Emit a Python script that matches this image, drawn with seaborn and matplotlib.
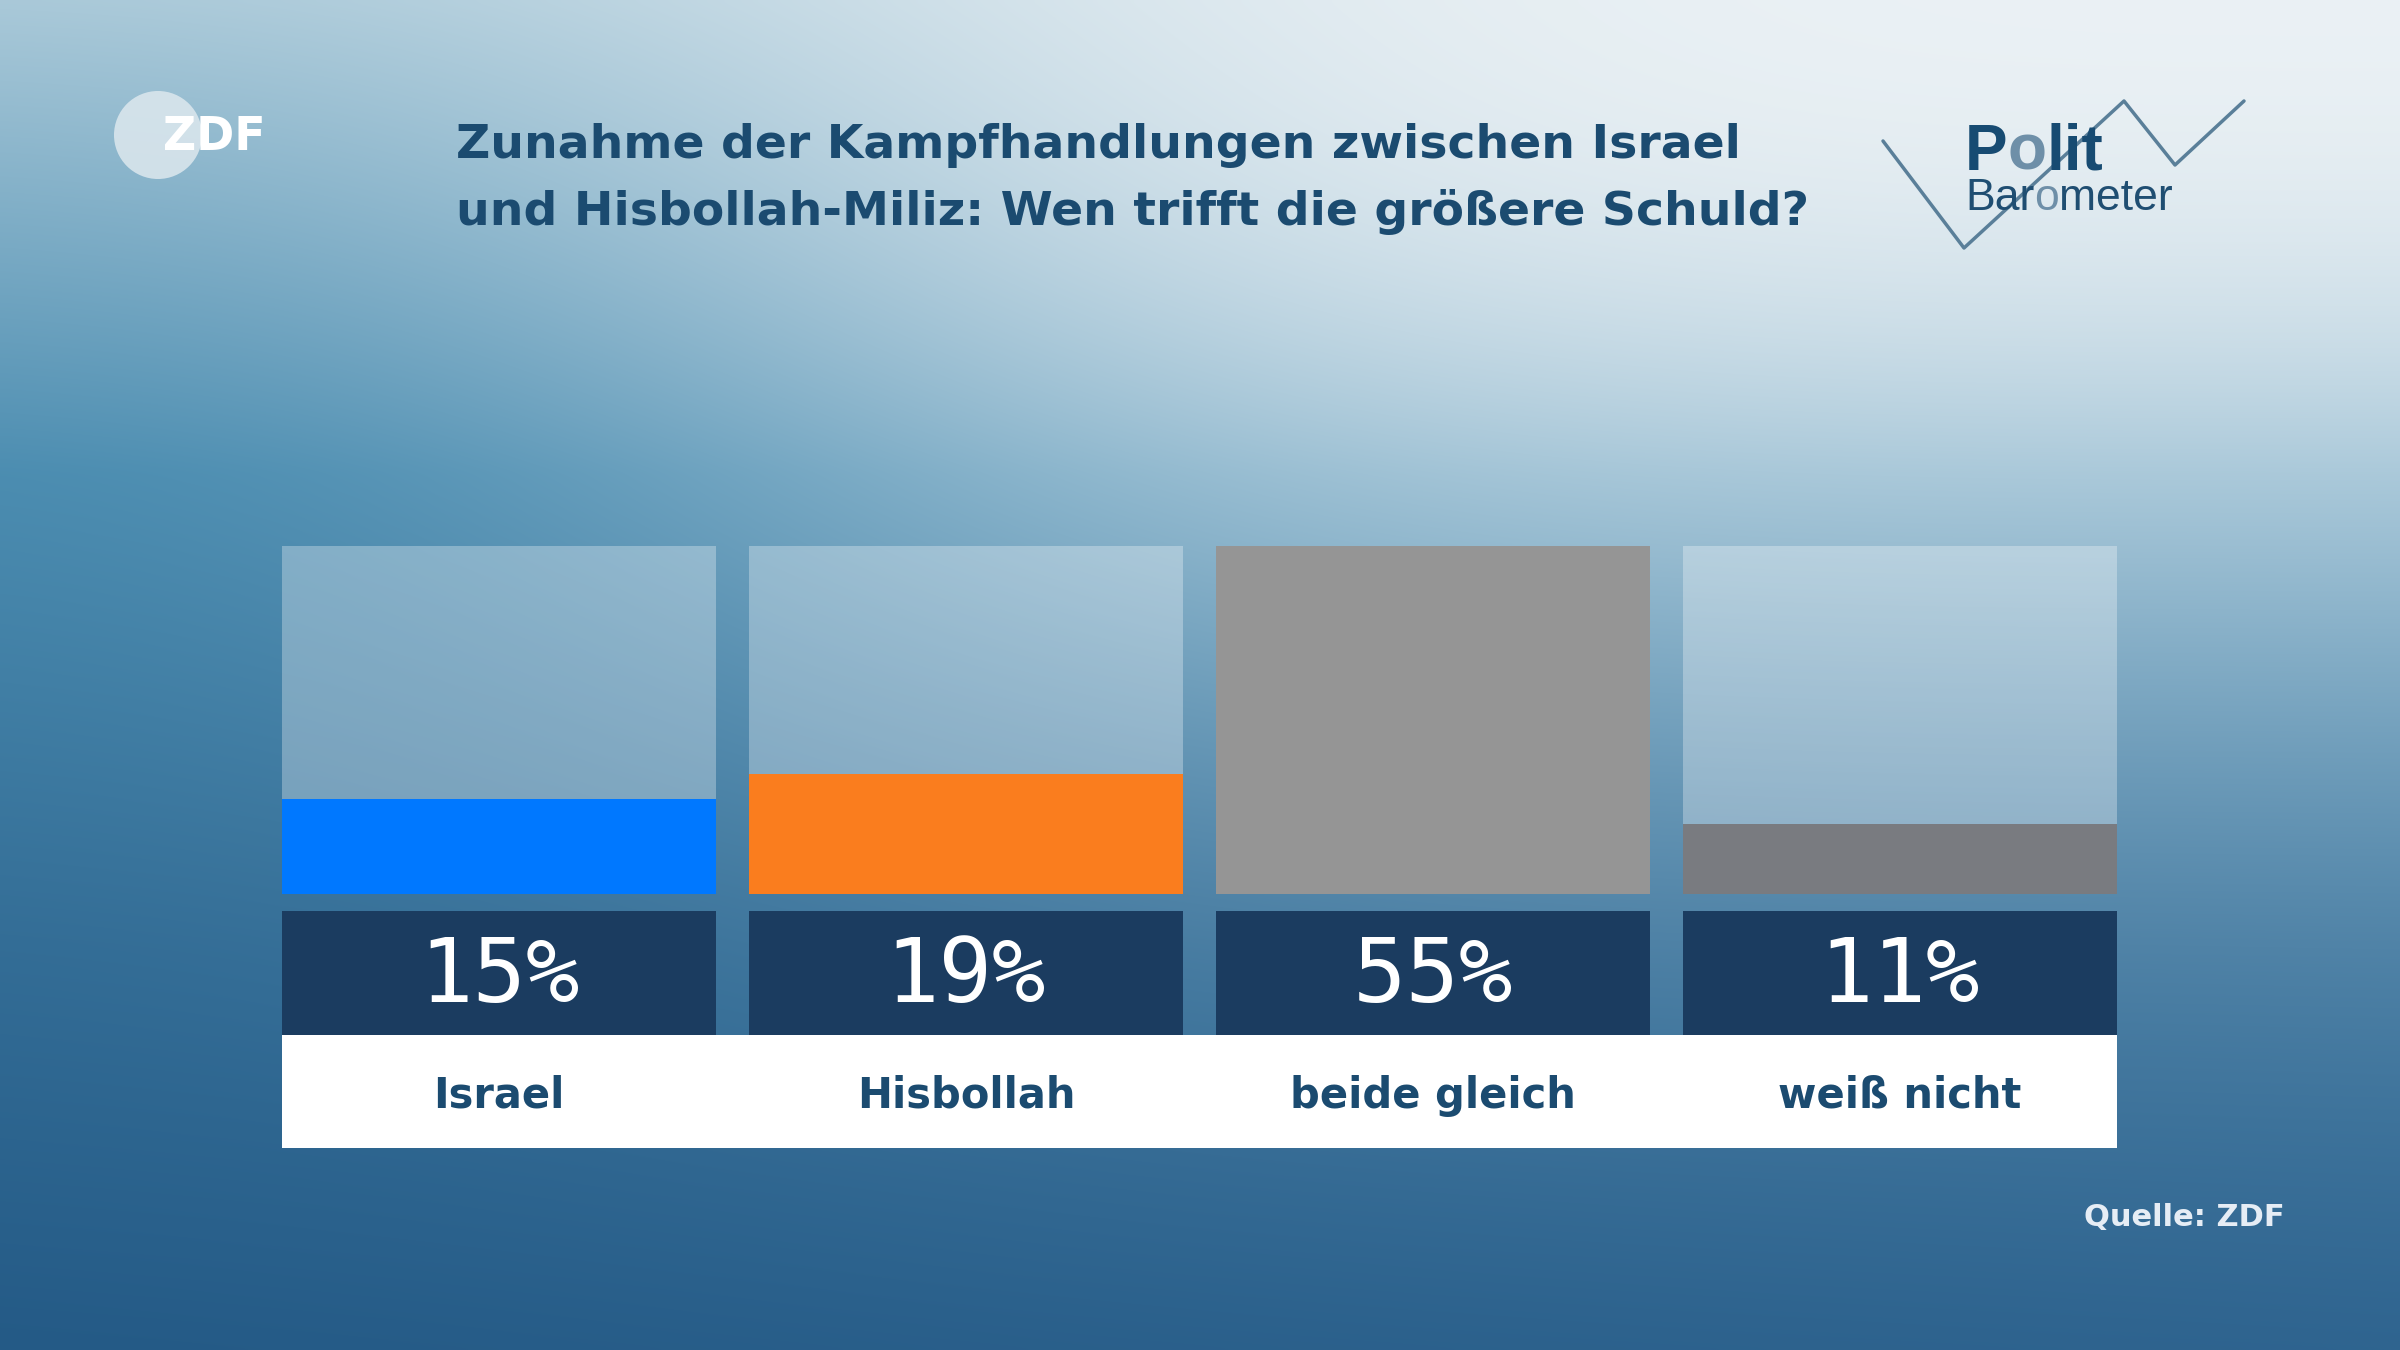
import numpy as np
import matplotlib
matplotlib.use("Agg")
import matplotlib.pyplot as plt
import matplotlib.colors as mcolors
from matplotlib.patches import Circle
import seaborn as sns

#data
categories = ["Israel", "Hisbollah", "beide gleich", "weiß nicht"]
values = [15, 19, 55, 11]
pct_labels = ["15%", "19%", "55%", "11%"]
bar_colors = ["#0078ff", "#fa7d1e", "#959595", "#797b80"]

title_lines = ["Zunahme der Kampfhandlungen zwischen Israel",
               "und Hisbollah-Miliz: Wen trifft die größere Schuld?"]
source = "Quelle: ZDF"

#---
#style
sns.set_theme(style="white")
plt.rcParams["font.family"] = ["DejaVu Sans"]
navy_text = "#1b4b70"
box_navy = "#1b3c60"
W, H = 2400, 1350

fig = plt.figure(figsize=(24, 13.5), dpi=100)

def frect(x0, y0, x1, y1):
    return [x0 / W, 1 - y1 / H, (x1 - x0) / W, (y1 - y0) / H]

#---
#background gradient
gh, gw = 270, 480
yy, xx = np.mgrid[0:1:gh * 1j, 0:1:gw * 1j]
stops = [0.0, 0.35, 0.7, 1.0]
stop_cols = np.array([mcolors.to_rgb(c) for c in ["#a8c8d8", "#4a8cb0", "#336d96", "#245a86"]])
img = np.zeros((gh, gw, 3))
for ch in range(3):
    img[..., ch] = np.interp(yy, stops, stop_cols[:, ch])
img = img + 0.03 * xx[..., None] * (yy[..., None])
glow = 0.95 * np.exp(-((xx - 1.0) / 0.71) ** 4 - (yy / 0.5) ** 2)
white = np.array(mcolors.to_rgb("#eef3f6"))
img = img * (1 - glow[..., None]) + white * glow[..., None]
img = np.clip(img, 0, 1)

bg = fig.add_axes([0, 0, 1, 1])
bg.imshow(img, extent=[0, W, H, 0], aspect="auto", interpolation="bicubic", zorder=0)
bg.set_xlim(0, W)
bg.set_ylim(H, 0)
bg.axis("off")

#---
#bars
ax = fig.add_axes(frect(282, 546, 2117, 894))
sns.barplot(x=categories, y=[max(values)] * len(categories), color="white", alpha=0.3,
            saturation=1, width=0.93, linewidth=0, ax=ax)
sns.barplot(x=categories, y=values, hue=categories, palette=bar_colors, saturation=1,
            width=0.93, linewidth=0, legend=False, ax=ax)
ax.set_xlim(-0.465, len(categories) - 0.535)
ax.set_ylim(0, max(values))
ax.axis("off")

#---
#value boxes and category labels
lab = fig.add_axes(frect(282, 911, 2117, 1148))
lab.set_xlim(-0.465, len(categories) - 0.535)
lab.set_ylim(0, 1)
lab.axhspan(0, 0.477, color="white", lw=0)
lab.bar(range(len(categories)), 0.523, bottom=0.477, width=0.93, color=box_navy, lw=0)
for i, (cat, pct) in enumerate(zip(categories, pct_labels)):
    lab.text(i, 0.72, pct, ha="center", va="center", color="white", fontsize=64,
             family="DejaVu Sans Mono")
    lab.text(i, 0.22, cat, ha="center", va="center", color=navy_text, fontsize=30,
             fontweight="bold")
lab.axis("off")

#---
#title and source
fig.text(456 / W, 1 - 146 / H, title_lines[0], ha="left", va="center", fontsize=34,
         fontweight="bold", color=navy_text)
fig.text(456 / W, 1 - 212 / H, title_lines[1], ha="left", va="center", fontsize=34,
         fontweight="bold", color=navy_text)
fig.text(2285 / W, 1 - 1217 / H, source, ha="right", va="center", fontsize=22,
         fontweight="bold", color="#e6edf5")

#---
#ZDF logo
bg.add_patch(Circle((158, 135), 44, color="#dde8ee", alpha=0.85, lw=0, zorder=2))
bg.text(163, 137, "ZDF", ha="left", va="center", fontsize=33, fontweight="bold",
        color="white", zorder=3)

#---
#Politbarometer logo
zig_x = [1883, 1964, 2124, 2175, 2244]
zig_y = [141, 248, 101, 165, 101]
bg.plot(zig_x, zig_y, color="#5a7f99", lw=2.5, zorder=2)

renderer = fig.canvas.get_renderer()

def pieces(x, y, parts, size, weight):
    for s, c in parts:
        t = bg.text(x, y, s, color=c, fontsize=size, fontweight=weight,
                    family="Liberation Sans", va="baseline", ha="left", zorder=3)
        x += t.get_window_extent(renderer).width

pieces(1965, 170, [("P", "#174b72"), ("o", "#6e8fa8"), ("lit", "#174b72")], 46, "bold")
pieces(1965, 210, [("Bar", "#1f4e72"), ("o", "#6e8fa8"), ("meter", "#1f4e72")], 32, "normal")

plt.savefig("out.png", dpi=100)
